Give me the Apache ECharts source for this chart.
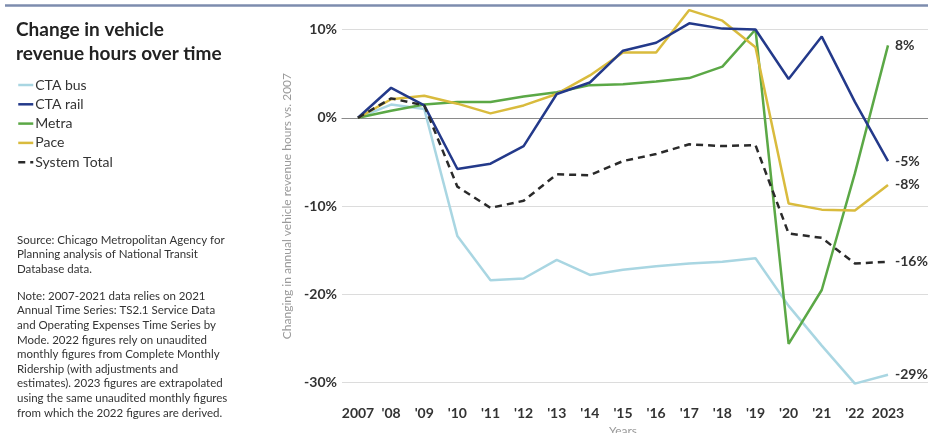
<!DOCTYPE html>
<html>
<head>
<meta charset="utf-8">
<script src="https://cdn.jsdelivr.net/npm/echarts@6/dist/echarts.min.js"></script>
<style>
  html, body { margin: 0; padding: 0; background: #fff; }
  #chart { width: 928px; height: 433px; }
</style>
</head>
<body>
<div id="chart"></div>
<script>
// ---- data ----
const years = ["2007", "'08", "'09", "'10", "'11", "'12", "'13", "'14", "'15", "'16", "'17", "'18", "'19", "'20", "'21", "'22", "2023"];
const ctaBus   = [0, 1.5, 1.0, -13.4, -18.4, -18.2, -16.1, -17.8, -17.2, -16.8, -16.5, -16.3, -15.9, -21.3, -25.8, -30.1, -29.1];
const ctaRail  = [0, 3.4, 1.4, -5.8, -5.2, -3.2, 2.7, 4.0, 7.6, 8.5, 10.7, 10.1, 10.0, 4.4, 9.2, 1.8, -4.9];
const metra    = [0, 0.8, 1.5, 1.8, 1.8, 2.4, 2.9, 3.7, 3.8, 4.1, 4.5, 5.8, 10.0, -25.6, -19.5, -6.3, 8.2];
const pace     = [0, 2.1, 2.5, 1.6, 0.5, 1.4, 2.7, 4.8, 7.4, 7.4, 12.2, 11.0, 8.0, -9.7, -10.4, -10.5, -7.6];
const sysTotal = [0, 2.2, 1.4, -7.8, -10.2, -9.4, -6.4, -6.5, -4.9, -4.1, -3.0, -3.2, -3.1, -13.1, -13.6, -16.5, -16.3];
const yTicks = [-30, -20, -10, 0, 10];

const titleText = "Change in vehicle\nrevenue hours over time";
const sourceLines = [
  "Source: Chicago Metropolitan Agency for",
  "Planning analysis of National Transit",
  "Database data."
];
const noteLines = [
  "Note: 2007-2021 data relies on 2021",
  "Annual Time Series: TS2.1 Service Data",
  "and Operating Expenses Time Series by",
  "Mode. 2022 figures rely on unaudited",
  "monthly figures from Complete Monthly",
  "Ridership (with adjustments and",
  "estimates). 2023 figures are extrapolated",
  "using the same unaudited monthly figures",
  "from which the 2022 figures are derived."
];

const FONT = 'Lato, "Open Sans", sans-serif';
const chart = echarts.init(document.getElementById('chart'), null, { renderer: 'canvas' });

function mk(name, data, color, dashed) {
  return {
    name: name, type: 'line', data: data, xAxisIndex: 1, yAxisIndex: 1,
    showSymbol: false, symbol: 'none', clip: false, silent: true,
    lineStyle: { color: color, width: 2.5, type: dashed ? [7, 5] : 'solid' },
    itemStyle: { color: color },
    endLabel: {
      show: true, distance: 7,
      formatter: p => Math.round(p.value) + '%',
      fontFamily: FONT, fontSize: 14, fontWeight: 'bold', color: '#333'
    },
    z: dashed ? 5 : 3
  };
}

const graphics = [
  { type: 'line', shape: { x1: 5, y1: 5.5, x2: 928, y2: 5.5 }, style: { stroke: '#7d8cae', lineWidth: 2.5 } }
];
sourceLines.forEach((t, i) => graphics.push({
  type: 'text', left: 17, top: 234 + i * 14.5,
  style: { text: t, font: '11.5px ' + FONT, fill: '#333' }
}));
noteLines.forEach((t, i) => graphics.push({
  type: 'text', left: 17, top: 290 + i * 14.6,
  style: { text: t, font: '11.5px ' + FONT, fill: '#333' }
}));

chart.setOption({
  animation: false,
  backgroundColor: '#fff',
  title: {
    text: titleText, left: 11, top: 13,
    textStyle: { fontFamily: FONT, fontSize: 19, fontWeight: 'bold', color: '#222', lineHeight: 24 }
  },
  legend: {
    orient: 'vertical', left: 12, top: 73,
    itemWidth: 15, itemHeight: 14, itemGap: 5.3,
    itemStyle: { opacity: 0 },
    lineStyle: { width: 2.5 },
    textStyle: { fontFamily: FONT, fontSize: 14, color: '#333', padding: [0, 0, 0, -3] },
    data: ['CTA bus', 'CTA rail', 'Metra', 'Pace', 'System Total']
  },
  grid: [
    { left: 342, right: 0, top: 29.5, bottom: 50.3, containLabel: false, outerBoundsMode: 'none' },
    { left: 358, right: 40, top: 29.5, bottom: 50.3, containLabel: false, outerBoundsMode: 'none' }
  ],
  xAxis: [
    { type: 'value', gridIndex: 0, min: 0, max: 1, axisLabel: { show: false }, axisTick: { show: false },
      splitLine: { show: false }, axisLine: { show: true, onZero: true, lineStyle: { color: '#8a8a8a', width: 1.2 } } },
    { type: 'category', gridIndex: 1, data: years, boundaryGap: false,
      axisLine: { show: false }, axisTick: { show: false }, splitLine: { show: false },
      axisLabel: { fontFamily: FONT, fontSize: 14, fontWeight: 'bold', color: '#333', margin: 24, interval: 0 },
      name: 'Years', nameLocation: 'middle', nameGap: 39,
      nameTextStyle: { fontFamily: FONT, fontSize: 12, color: '#999' } }
  ],
  yAxis: [
    { type: 'value', gridIndex: 0, min: yTicks[0], max: yTicks[yTicks.length - 1], interval: 10,
      axisLine: { show: false }, axisTick: { show: false },
      axisLabel: { formatter: '{value}%', fontFamily: FONT, fontSize: 14, fontWeight: 'bold', color: '#333', margin: 5 },
      splitLine: { lineStyle: { color: '#dcdcdc', width: 1 } },
      name: 'Changing in annual vehicle revenue hours vs. 2007', nameLocation: 'middle', nameGap: 49,
      nameTextStyle: { fontFamily: FONT, fontSize: 12, color: '#9a9a9a' } },
    { type: 'value', gridIndex: 1, min: yTicks[0], max: yTicks[yTicks.length - 1], interval: 10, show: false }
  ],
  graphic: graphics,
  series: [
    mk('CTA bus', ctaBus, '#a9d6e2', false),
    mk('Metra', metra, '#5ba846', false),
    mk('Pace', pace, '#d9bb3d', false),
    mk('CTA rail', ctaRail, '#23398a', false),
    mk('System Total', sysTotal, '#2a2a2a', true)
  ]
});
</script>
</body>
</html>
